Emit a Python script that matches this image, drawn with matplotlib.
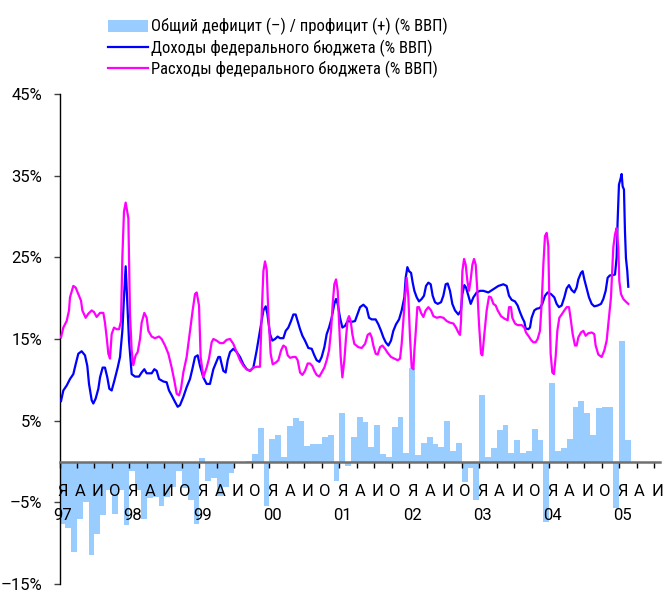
import matplotlib
matplotlib.use("Agg")
import matplotlib.pyplot as plt
from matplotlib.patches import Patch
from matplotlib.lines import Line2D

plt.rcParams['font.family'] = ['Roboto', 'DejaVu Sans']

# total balance, % of GDP, monthly Jan 1997 .. Feb 2005
balance = [
    -7.6, -8.1, -11.1, -7.0, -5.0, -11.4, -8.9, -6.6, -3.5, -6.4, -3.5, -7.8,   # 1997
    -1.2, -3.5, -7.0, -4.5, -4.4, -5.4, -4.4, -3.1, -1.2, -3.3, -4.7, -7.6,     # 1998
    0.4, -2.4, -2.0, -4.2, -3.1, -1.4, -0.2, 0.0, 0.1, 0.9, 4.1, -5.5,          # 1999
    2.8, 3.3, 0.6, 4.3, 5.3, 5.0, 1.9, 2.1, 2.1, 3.0, 3.3, -2.4,                # 2000
    6.0, -0.6, 3.0, 5.4, 4.8, 1.8, 4.5, 0.9, 0.6, 4.2, 5.4, 1.1,               # 2001
    11.5, 0.8, 2.3, 3.0, 2.1, 1.8, 5.0, 1.3, 2.3, -2.5, -0.8, -4.7,            # 2002
    8.2, 0.6, 1.6, 3.8, 4.5, 1.1, 2.6, 1.0, 1.3, 4.0, 2.6, -7.4,               # 2003
    9.6, 1.3, 1.6, 2.8, 6.7, 7.4, 6.0, 3.3, 6.5, 6.7, 6.7, -5.7,               # 2004
    14.8, 2.6,                                                                 # 2005
]

# revenues, % of GDP (time in months since 1 Jan 1997)
rev_t = [0.26, 0.66, 1.23, 1.80, 2.37, 2.77, 3.23, 3.80, 4.37, 4.77, 5.06, 5.52, 5.80, 6.20, 6.66,
         6.95, 7.40, 7.80, 8.20, 8.55, 8.95, 9.41, 9.98, 10.38, 10.78, 11.06, 11.35, 11.63, 11.92,
         12.38, 12.95, 13.64, 14.09, 14.55, 14.95, 15.81, 16.27, 16.67, 17.07, 17.81, 18.38, 18.78,
         19.24, 19.81, 20.27, 20.67, 21.24, 21.81, 22.38, 22.78, 23.24, 23.70, 24.10, 24.67, 25.24,
         25.81, 26.39, 27.25, 27.53, 27.82, 28.10, 28.50, 28.85, 29.25, 29.82, 30.39, 30.96, 31.54,
         32.11, 32.68, 33.25, 33.82, 34.39, 34.97, 35.37, 35.65, 36.11, 36.51, 36.97, 37.42, 37.82,
         38.40, 38.80, 39.25, 39.71, 40.11, 40.51, 40.85, 41.26, 41.66, 42.11, 42.68, 43.26, 43.71,
         44.11, 44.57, 44.97, 45.43, 45.83, 46.23, 46.69, 47.14, 47.43, 47.72, 48.12, 48.52, 48.97,
         49.43, 50.12, 50.69, 51.15, 51.55, 52.12, 52.69, 53.09, 53.55, 54.23, 54.69, 55.15, 55.55,
         55.95, 56.41, 56.86, 57.26, 57.72, 58.24, 58.69, 59.15, 59.38, 59.67, 59.95, 60.30, 60.58,
         60.87, 61.27, 61.67, 62.12, 62.52, 62.87, 63.27, 63.67, 64.01, 64.41, 64.87, 65.44, 65.84,
         66.24, 66.58, 66.98, 67.38, 67.84, 68.41, 68.87, 69.10, 69.44, 69.73, 70.13, 70.53, 70.99,
         71.56, 72.13, 72.70, 73.56, 74.42, 75.28, 76.13, 76.70, 77.10, 77.55, 78.13, 78.58, 78.98,
         79.38, 79.73, 79.95, 80.41, 80.70, 80.98, 81.44, 81.84, 82.41, 82.81, 83.27, 83.73, 84.30,
         84.87, 85.27, 85.67, 86.13, 86.59, 86.99, 87.39, 87.84, 88.30, 88.70, 88.99, 89.45, 89.73,
         90.02, 90.42, 90.82, 91.28, 91.73, 92.30, 92.88, 93.28, 93.68, 94.02, 94.42, 94.82, 95.28,
         95.56, 95.73, 95.96, 96.19, 96.42, 96.59, 96.82, 96.99, 97.16, 97.39, 97.56]
rev_v = [7.4, 8.7, 9.3, 10.1, 10.7, 11.9, 13.2, 13.5, 13.0, 11.7, 9.5, 7.5, 7.1, 7.7, 8.9,
         10.3, 11.5, 11.5, 10.3, 8.9, 8.7, 9.9, 11.5, 12.8, 16.0, 20.1, 23.9, 19.3, 14.8,
         10.7, 10.4, 10.4, 10.9, 11.3, 10.8, 10.8, 11.3, 11.1, 10.1, 9.8, 9.7, 8.7,
         8.1, 7.3, 6.7, 6.9, 7.9, 9.1, 10.1, 11.3, 12.8, 13.0, 11.7, 10.3, 9.5,
         9.5, 11.3, 12.8, 12.8, 11.9, 11.1, 10.9, 12.4, 13.4, 13.8, 13.4, 12.8, 11.9,
         11.3, 11.1, 11.5, 13.6, 16.0, 18.5, 19.0, 18.1, 15.6, 14.8, 15.0, 15.3, 15.1,
         15.1, 16.0, 16.4, 17.2, 18.0, 18.0, 17.2, 16.2, 15.4, 14.8, 13.9, 13.8, 13.0,
         12.4, 12.2, 12.8, 14.0, 15.6, 16.4, 17.6, 19.3, 19.9, 19.3, 17.6, 16.4, 16.6,
         17.2, 17.1, 17.2, 18.1, 18.9, 19.2, 18.8, 17.6, 17.4, 17.4, 16.8, 16.0, 15.2,
         14.6, 14.2, 14.8, 16.0, 16.8, 17.4, 18.5, 20.1, 22.5, 23.8, 23.3, 23.1, 21.9,
         20.9, 20.1, 19.6, 19.9, 20.3, 21.5, 21.9, 21.7, 20.3, 19.5, 19.3, 19.5, 20.3,
         21.7, 21.8, 20.9, 19.3, 18.5, 18.0, 18.5, 20.5, 21.6, 21.3, 20.3, 19.3, 20.1,
         20.7, 20.9, 20.9, 20.7, 21.1, 21.5, 21.7, 21.5, 20.3, 19.8, 19.6, 19.1, 18.3,
         17.6, 17.1, 16.3, 16.2, 16.4, 17.6, 18.5, 18.7, 18.8, 19.3, 20.3, 20.7, 20.5,
         20.1, 19.3, 18.9, 19.1, 20.1, 21.2, 21.6, 21.0, 20.7, 21.3, 22.3, 23.1, 23.3,
         22.3, 21.2, 20.1, 19.3, 19.0, 19.1, 19.3, 19.9, 20.9, 22.5, 22.8, 22.8, 22.9,
         25.0, 29.4, 33.9, 34.5, 35.2, 33.7, 33.3, 28.2, 24.9, 23.3, 21.4]

# expenditures, % of GDP (time in months since 1 Jan 1997)
exp_t = [0.26, 0.66, 1.23, 1.63, 1.80, 2.37, 2.77, 3.34, 3.69, 3.92, 4.49, 4.95, 5.52, 5.92, 6.37,
         6.95, 7.52, 7.80, 8.09, 8.38, 8.66, 8.95, 9.35, 9.80, 10.21, 10.55, 10.78, 11.06, 11.35,
         11.81, 12.09, 12.38, 12.66, 13.06, 13.41, 13.81, 14.09, 14.55, 14.95, 15.24, 15.81, 16.38,
         17.07, 17.52, 18.10, 18.67, 19.24, 19.70, 20.10, 20.50, 20.84, 21.24, 21.81, 22.38, 22.84,
         23.24, 23.53, 23.93, 24.21, 24.67, 25.24, 25.64, 26.10, 26.39, 26.96, 27.53, 28.10, 28.68,
         29.25, 29.82, 30.39, 30.96, 31.54, 32.11, 32.68, 33.25, 33.82, 34.39, 34.68, 34.97, 35.25,
         35.54, 35.82, 36.22, 36.57, 37.08, 37.54, 38.00, 38.40, 38.80, 39.14, 39.54, 40.11, 40.51,
         40.85, 41.26, 41.66, 42.11, 42.57, 42.97, 43.37, 43.71, 44.11, 44.57, 44.97, 45.43, 45.83,
         46.23, 46.57, 46.86, 47.14, 47.43, 47.72, 47.94, 48.23, 48.52, 48.86, 49.15, 49.43, 49.66,
         49.95, 50.23, 50.57, 51.26, 51.83, 52.41, 52.86, 53.26, 53.55, 53.83, 54.23, 54.58, 54.98,
         55.38, 55.84, 56.29, 56.86, 57.44, 58.01, 58.41, 58.69, 58.98, 59.27, 59.55, 59.84, 60.12,
         60.41, 60.70, 60.87, 61.10, 61.38, 61.67, 62.01, 62.41, 62.81, 63.27, 63.73, 64.13, 64.70,
         65.27, 65.84, 66.41, 66.98, 67.56, 68.01, 68.41, 68.70, 68.87, 69.10, 69.39, 69.67, 69.96,
         70.24, 70.53, 70.82, 71.10, 71.39, 71.67, 71.96, 72.30, 72.53, 72.87, 73.27, 73.67, 74.02,
         74.42, 74.82, 75.16, 75.73, 76.30, 76.87, 77.10, 77.44, 77.67, 78.13, 78.58, 79.27, 79.73,
         80.01, 80.41, 80.87, 81.27, 81.67, 82.01, 82.41, 82.70, 82.99, 83.27, 83.56, 83.84, 84.01,
         84.24, 84.53, 84.81, 85.10, 85.39, 85.73, 86.13, 86.59, 86.99, 87.39, 87.73, 88.02, 88.42,
         88.70, 88.99, 89.45, 89.85, 90.25, 90.70, 91.28, 91.73, 91.96, 92.42, 92.99, 93.45, 93.85,
         94.25, 94.59, 94.99, 95.28, 95.56, 95.85, 96.02, 96.31, 96.71, 97.11, 97.56]
exp_v = [15.2, 16.4, 17.2, 18.5, 20.1, 21.5, 21.3, 20.3, 19.7, 18.5, 17.6, 18.1, 18.5, 18.3, 17.7,
         18.2, 18.2, 17.0, 15.2, 13.2, 12.6, 15.6, 16.4, 16.2, 16.2, 17.2, 25.0, 30.6, 31.7,
         29.8, 18.1, 13.6, 11.8, 13.0, 13.4, 15.0, 17.0, 18.2, 17.6, 16.0, 15.3, 15.1,
         15.3, 15.0, 14.2, 13.2, 11.5, 9.9, 8.3, 8.1, 8.9, 10.9, 12.8, 16.0, 18.5,
         20.5, 20.7, 19.1, 12.8, 10.3, 11.5, 12.6, 14.6, 15.0, 14.8, 14.5, 14.5, 14.9,
         15.0, 14.4, 13.4, 12.4, 11.7, 11.3, 11.1, 11.5, 11.6, 11.6, 18.0, 23.3, 24.5,
         23.5, 18.1, 13.2, 11.9, 12.1, 12.4, 13.6, 14.2, 14.0, 13.0, 12.7, 12.8, 12.8,
         12.4, 10.9, 10.6, 11.1, 12.0, 12.0, 11.7, 11.1, 10.6, 10.4, 10.9, 11.5, 12.4,
         13.6, 16.0, 19.3, 21.7, 22.3, 20.9, 17.2, 12.8, 10.3, 12.4, 15.2, 17.4, 17.8,
         17.2, 15.6, 14.4, 14.0, 13.9, 14.4, 15.5, 15.7, 15.2, 14.2, 13.2, 13.1, 14.0,
         14.2, 13.8, 13.3, 12.8, 12.6, 12.4, 12.6, 14.4, 17.2, 20.1, 22.5, 20.1, 15.2,
         11.5, 11.3, 13.6, 15.8, 18.9, 18.9, 18.2, 17.7, 18.5, 18.9, 18.5, 17.8, 17.6,
         17.7, 17.6, 17.2, 17.0, 16.9, 16.4, 15.8, 15.5, 17.2, 23.3, 24.8, 24.1, 22.1,
         20.9, 22.3, 24.1, 24.8, 24.1, 20.9, 16.8, 13.2, 13.0, 15.6, 18.5, 20.2, 20.1,
         19.3, 19.1, 18.5, 17.8, 17.5, 17.3, 18.9, 18.9, 17.6, 16.9, 16.7, 16.7, 16.4,
         15.8, 15.4, 14.9, 14.6, 14.6, 15.0, 16.0, 19.3, 24.1, 27.6, 28.0, 26.4, 20.1,
         13.2, 10.9, 10.7, 12.8, 16.0, 17.6, 18.0, 18.5, 18.9, 18.9, 17.2, 15.6, 14.2,
         14.2, 15.2, 15.8, 16.0, 15.4, 15.7, 15.8, 15.6, 14.2, 13.1, 12.8, 13.6, 14.8,
         17.6, 20.1, 26.2, 27.8, 28.6, 26.2, 22.1, 20.5, 19.9, 19.6, 19.3]

quarter_letters = ['Я', 'А', 'И', 'О']
years = ['97', '98', '99', '00', '01', '02', '03', '04', '05']
y_ticks = [-15, -5, 5, 15, 25, 35, 45]

labels = ['Общий дефицит (–) / профицит (+) (% ВВП)',
          'Доходы федерального бюджета (% ВВП)',
          'Расходы федерального бюджета (% ВВП)']

bar_color = '#99CCFF'
rev_color = '#0000FF'
exp_color = '#FF00FF'
fs = 12

fig = plt.figure(figsize=(6.67, 5.92), dpi=100)
ax = fig.add_axes([59.5 / 667, 8 / 592, 600.5 / 667, 490 / 592])

ax.bar([i + 0.5 for i in range(len(balance))], balance, width=1.0,
       color=bar_color, linewidth=0, zorder=1)
ax.plot(rev_t, rev_v, color=rev_color, lw=1.6, zorder=3)
ax.plot(exp_t, exp_v, color=exp_color, lw=1.6, zorder=3)

ax.set_xlim(0, 103)
ax.set_ylim(-15, 45)

for s in ['top', 'right']:
    ax.spines[s].set_visible(False)
ax.spines['left'].set_color('black')
ax.spines['left'].set_linewidth(1.0)
ax.spines['bottom'].set_position(('data', 0))
ax.spines['bottom'].set_color('#707070')
ax.spines['bottom'].set_linewidth(1.8)
ax.spines['bottom'].set_zorder(4)

ax.set_xticks(range(0, 103, 3))
ax.set_xticklabels([])
ax.tick_params(axis='x', direction='out', length=4, width=1, color='black')

ax.set_yticks(y_ticks)
ax.set_yticklabels([('–' if v < 0 else '') + f'{abs(v)}%' for v in y_ticks], fontsize=fs)
ax.tick_params(axis='y', direction='out', length=4.5, width=1, color='#404040', pad=8)

n_q = 35
for q in range(n_q):
    m = q * 3 + 0.5
    ax.annotate(quarter_letters[q % 4], xy=(m, 0), xytext=(0, -22),
                textcoords='offset pixels', ha='center', va='top', fontsize=fs)
for k, yr in enumerate(years):
    ax.annotate(yr, xy=(k * 12 + 0.5, 0), xytext=(0, -46),
                textcoords='offset pixels', ha='center', va='top', fontsize=fs)

handles = [Patch(facecolor=bar_color, edgecolor='none'),
           Line2D([], [], color=rev_color, lw=1.6),
           Line2D([], [], color=exp_color, lw=1.6)]
fig.legend(handles, labels, loc='upper left', bbox_to_anchor=(108 / 667, 1 - 18 / 592),
           frameon=False, borderpad=0, borderaxespad=0, handlelength=2.4, handleheight=0.75,
           handletextpad=0.2, labelspacing=0.25,
           prop={'family': ['Roboto Condensed', 'Roboto', 'DejaVu Sans'], 'size': 12})

fig.savefig('out.png', dpi=100)
